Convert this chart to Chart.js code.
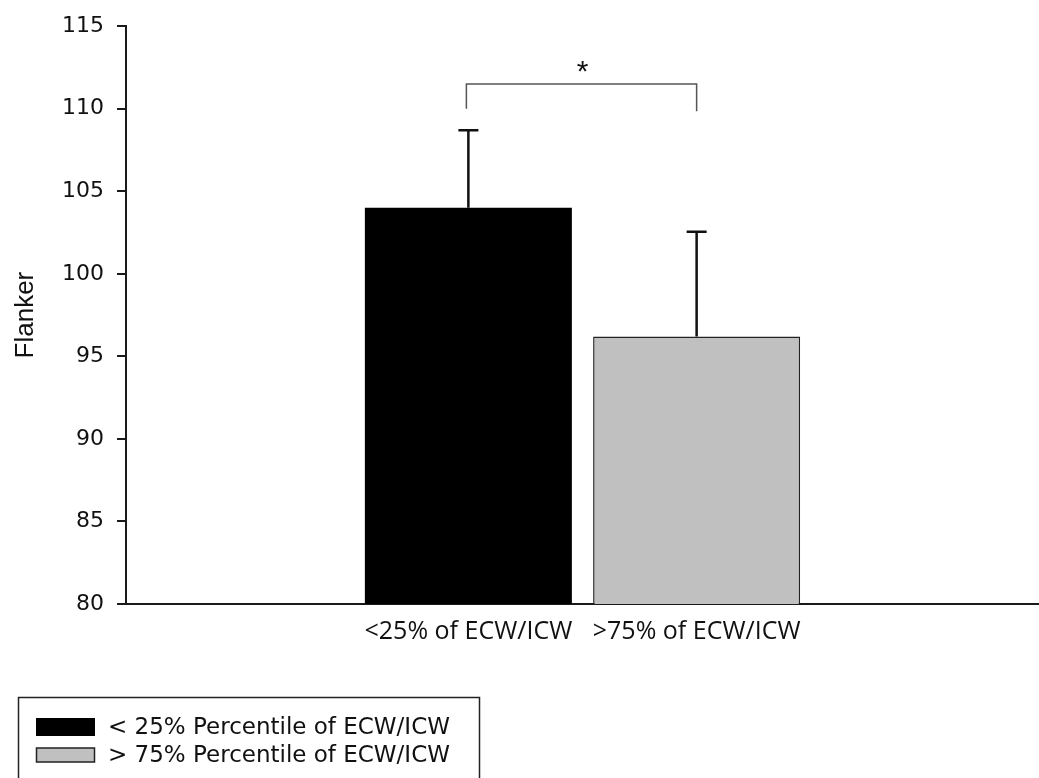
<!DOCTYPE html>
<html>
<head>
<meta charset="utf-8">
<script src="https://cdn.jsdelivr.net/npm/chart.js@4/dist/chart.umd.min.js"></script>
<style>
  html, body { margin: 0; padding: 0; background: #fff; }
  #wrap { width: 1039px; height: 778px; position: relative; }
</style>
</head>
<body>
<div id="wrap"><canvas id="c" width="1039" height="778"></canvas></div>
<script>
// Group labels on the x axis and the matching legend entries
const categories = ['<25% of ECW/ICW', '>75% of ECW/ICW'];
const seriesNames = ['< 25% Percentile of ECW/ICW', '> 75% Percentile of ECW/ICW'];
// Mean Flanker score and its upper error (SD) per group
const means = [104.0, 96.2];
const errors = [4.7, 6.35];
// Y axis range
const yTicks = [80, 85, 90, 95, 100, 105, 110, 115];
// Significance bracket between the two groups (data units)
const bracketTop = 111.5;
const bracketEnds = [110.0, 109.85];
const bracketLabel = '*';

const barColors = ['#000000', '#c0c0c0'];
const barBorders = ['#000000', '#222222'];

// Two empty slots on either side keep the bars in the middle of the axis
const labels = ['', ...categories, ''];
const datasets = seriesNames.map((name, i) => ({
  label: name,
  data: labels.map((_, j) => (j === i + 1 ? means[i] : null)),
  backgroundColor: barColors[i],
  borderColor: barBorders[i],
  borderWidth: i === 0 ? 0 : 1.5,
  skipNull: true,
  barPercentage: 0.907,
  categoryPercentage: 1.0
}));

const AXIS = '#1a1a1a';
const SANS = '"Liberation Sans", Arial, sans-serif';
const WIDE = '"DejaVu Sans", sans-serif';

// Error bars, significance bracket and boxed legend
const annotate = {
  id: 'annotate',
  afterDatasetsDraw(chart) {
    const ctx = chart.ctx;
    const y = chart.scales.y;
    const centers = [];
    ctx.save();
    ctx.strokeStyle = '#111';
    ctx.lineWidth = 2.5;
    means.forEach((m, i) => {
      const bar = chart.getDatasetMeta(i).data[i + 1];
      const x = bar.x;
      centers.push(x);
      const yTop = y.getPixelForValue(m + errors[i]);
      const yBase = y.getPixelForValue(m);
      ctx.beginPath();
      ctx.moveTo(x, yBase);
      ctx.lineTo(x, yTop);
      ctx.moveTo(x - 10, yTop);
      ctx.lineTo(x + 10, yTop);
      ctx.stroke();
    });
    // bracket
    const yb = y.getPixelForValue(bracketTop);
    ctx.strokeStyle = '#555';
    ctx.lineWidth = 1.5;
    ctx.beginPath();
    ctx.moveTo(centers[0] - 2, y.getPixelForValue(bracketEnds[0]));
    ctx.lineTo(centers[0] - 2, yb);
    ctx.lineTo(centers[1], yb);
    ctx.lineTo(centers[1], y.getPixelForValue(bracketEnds[1]));
    ctx.stroke();
    ctx.fillStyle = '#111';
    ctx.font = '30px ' + SANS;
    ctx.textAlign = 'center';
    ctx.textBaseline = 'alphabetic';
    ctx.fillText(bracketLabel, (centers[0] + centers[1]) / 2, yb - 3);
    ctx.restore();
  },
  afterDraw(chart) {
    const ctx = chart.ctx;
    ctx.save();
    ctx.strokeStyle = '#222';
    ctx.lineWidth = 1.5;
    ctx.strokeRect(18.5, 697.5, 461, 110);
    const rows = [727, 755];
    chart.data.datasets.forEach((ds, i) => {
      const ry = rows[i];
      if (i === 0) {
        ctx.fillStyle = ds.backgroundColor;
        ctx.fillRect(36, ry - 9, 59, 18);
      } else {
        ctx.fillStyle = ds.backgroundColor;
        ctx.fillRect(36.5, ry - 7, 58, 14);
        ctx.strokeStyle = ds.borderColor;
        ctx.strokeRect(36.5, ry - 7, 58, 14);
      }
      ctx.fillStyle = '#111';
      ctx.font = '23px ' + WIDE;
      ctx.textAlign = 'left';
      ctx.textBaseline = 'middle';
      ctx.fillText(ds.label, 108, ry + 1);
    });
    ctx.restore();
  }
};

new Chart(document.getElementById('c'), {
  type: 'bar',
  data: { labels, datasets },
  plugins: [annotate],
  options: {
    responsive: false,
    animation: false,
    devicePixelRatio: 1,
    layout: { padding: { top: 25, left: 0, right: 0, bottom: 0 } },
    plugins: { legend: { display: false }, tooltip: { enabled: false } },
    scales: {
      x: {
        type: 'category',
        grid: { display: false, drawTicks: false },
        border: { display: true, color: AXIS, width: 2 },
        ticks: {
          font: { family: '"Open Sans", sans-serif', size: 25 },
          color: '#111',
          padding: 13,
          autoSkip: false,
          maxRotation: 0
        },
        afterFit(s) { s.height = 174; }
      },
      y: {
        min: yTicks[0],
        max: yTicks[yTicks.length - 1],
        afterBuildTicks(s) { s.ticks = yTicks.map(v => ({ value: v })); },
        grid: { drawOnChartArea: false, drawTicks: true, tickLength: 9, color: AXIS, lineWidth: 2 },
        border: { display: true, color: AXIS, width: 2 },
        ticks: {
          font: { family: WIDE, size: 22 },
          color: '#111',
          padding: 13
        },
        title: {
          display: true,
          text: 'Flanker',
          font: { family: SANS, size: 26 },
          color: '#111',
          padding: { top: 10, bottom: 0 }
        },
        afterFit(s) { s.width = 126; }
      }
    }
  }
});
</script>
</body>
</html>
